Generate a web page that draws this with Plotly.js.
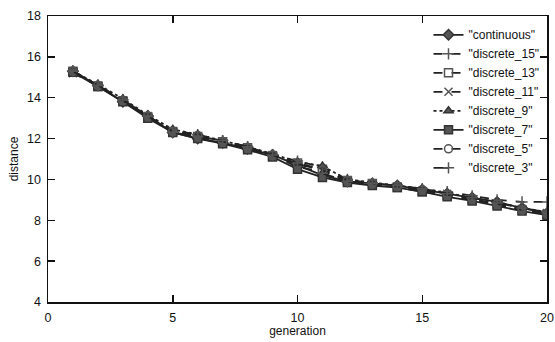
<!DOCTYPE html>
<html>
<head>
<meta charset="utf-8">
<script src="https://cdn.plot.ly/plotly-3.0.1.min.js"></script>
<style>html,body{margin:0;padding:0;background:#fff;}#chart{width:555px;height:342px;}</style>
</head>
<body>
<div id="chart"></div>
<script>
const generation = [1,2,3,4,5,6,7,8,9,10,11,12,13,14,15,16,17,18,19,20];
const continuous  = [15.3,14.6,13.8,13.1,12.3,12.0,11.8,11.5,11.2,10.7,10.2,9.9,9.8,9.7,9.5,9.3,9.1,8.9,8.6,8.35];
const discrete_15 = [15.3,14.6,13.9,13.1,12.4,12.2,11.9,11.6,11.2,10.9,10.6,10.0,9.8,9.7,9.5,9.4,9.2,9.0,8.9,8.9];
const discrete_13 = [15.3,14.55,13.85,13.05,12.35,12.1,11.85,11.55,11.15,10.8,10.5,9.95,9.8,9.6,9.4,9.2,9.0,8.8,8.5,8.3];
const discrete_11 = [15.2,14.6,13.8,13.1,12.3,12.1,11.8,11.5,11.2,10.6,10.4,9.9,9.75,9.65,9.45,9.3,9.05,8.75,8.55,8.35];
const discrete_9  = [15.3,14.65,13.95,13.15,12.45,12.2,11.9,11.6,11.25,10.85,10.65,10.0,9.85,9.7,9.55,9.35,9.1,8.9,8.6,8.4];
const discrete_7  = [15.25,14.55,13.8,13.0,12.3,12.0,11.75,11.45,11.1,10.5,10.1,9.85,9.7,9.6,9.4,9.15,8.95,8.7,8.45,8.25];
const discrete_5  = [15.3,14.6,13.85,13.1,12.35,12.15,11.85,11.55,11.2,10.75,10.45,9.95,9.8,9.65,9.5,9.25,9.05,8.8,8.5,8.3];
const discrete_3  = [15.3,14.6,13.9,13.1,12.3,12.1,11.9,11.6,11.2,10.8,10.3,9.9,9.8,9.7,9.55,9.3,9.1,8.85,8.6,8.4];

const names = ['"continuous"','"discrete_15"','"discrete_13"','"discrete_11"','"discrete_9"','"discrete_7"','"discrete_5"','"discrete_3"'];
const seriesList = [continuous, discrete_15, discrete_13, discrete_11, discrete_9, discrete_7, discrete_5, discrete_3];
const symbols = ['diamond','cross-thin-open','square-open','x-thin-open','triangle-up','square','circle-open','cross-thin-open'];
const dashes = ['solid','dash','dash','dash','dot','solid','dash','longdash'];

const traces = seriesList.map((ys, i) => ({
  x: generation, y: ys, name: names[i], type: 'scatter', mode: 'lines+markers',
  line: {color: '#222', width: 1.8, dash: dashes[i]},
  marker: {symbol: symbols[i], size: 8, color: '#555', line: {color: '#333', width: 1.5}}
}));

const axisCommon = {
  showgrid: false, zeroline: false, showline: true, linecolor: '#111', linewidth: 1.5,
  mirror: 'ticks', ticks: 'inside', ticklen: 7, tickcolor: '#111', tickwidth: 1.5,
  tickfont: {family: 'Liberation Sans, Arial, sans-serif', size: 12.5, color: '#111'}
};

const layout = {
  width: 555, height: 342,
  margin: {l: 48, r: 8, t: 16, b: 40},
  paper_bgcolor: '#fff', plot_bgcolor: '#fff',
  font: {family: 'Liberation Sans, Arial, sans-serif', color: '#111'},
  xaxis: Object.assign({}, axisCommon, {range: [0, 20], tickvals: [0,5,10,15,20], ticklabelstandoff: 3,
    title: {text: 'generation', font: {size: 12}, standoff: 1}}),
  yaxis: Object.assign({}, axisCommon, {range: [4, 18], tickvals: [4,6,8,10,12,14,16,18], ticklabelstandoff: 3,
    title: {text: 'distance', font: {size: 12}, standoff: 6}}),
  showlegend: true,
  legend: {x: 0.995, y: 0.985, xanchor: 'right', yanchor: 'top', bgcolor: 'rgba(255,255,255,0)',
    font: {size: 12, color: '#111'}, itemwidth: 30, tracegroupgap: 0}
};

Plotly.newPlot('chart', traces, layout, {displayModeBar: false, staticPlot: true});
</script>
</body>
</html>
